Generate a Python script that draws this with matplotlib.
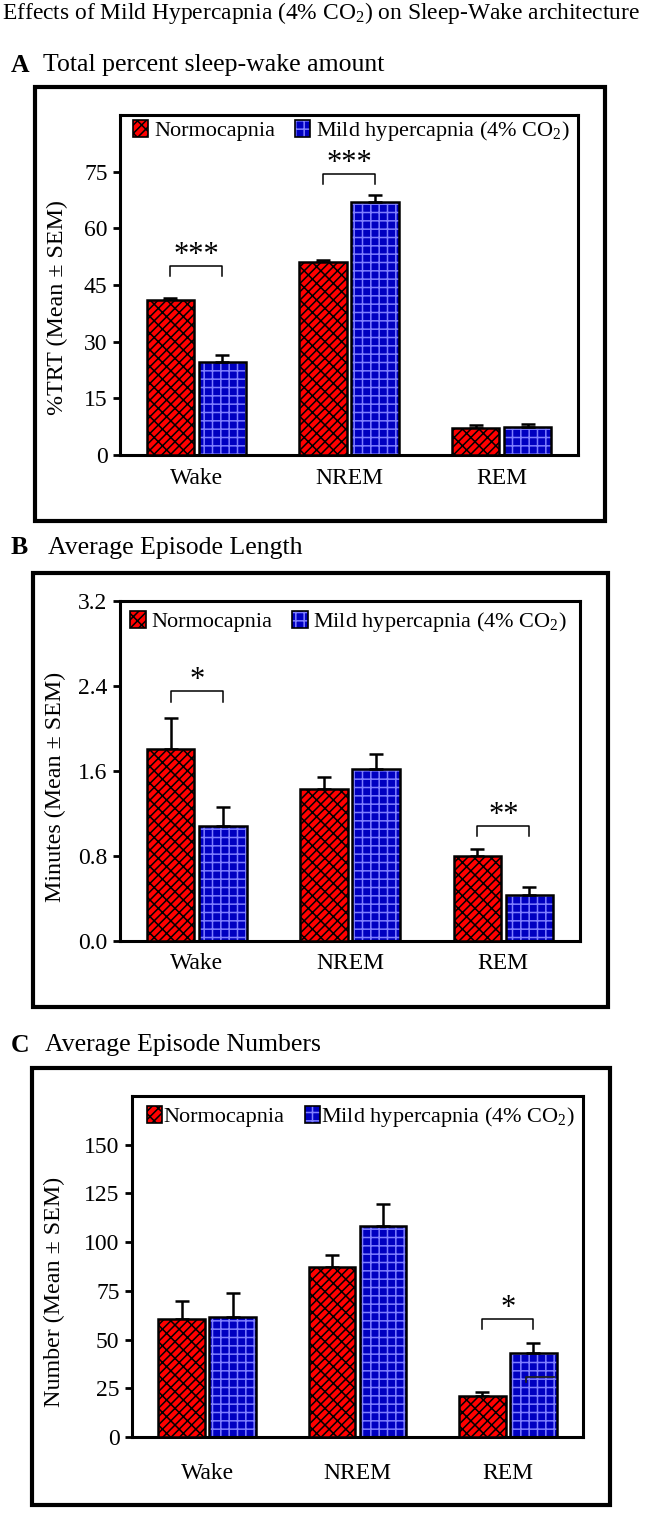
import numpy as np
import matplotlib
matplotlib.use("Agg")
import matplotlib.pyplot as plt
from matplotlib.patches import Patch, Rectangle

plt.rcParams['font.family'] = 'Liberation Serif'
plt.rcParams['mathtext.fontset'] = 'custom'
plt.rcParams['mathtext.rm'] = 'Liberation Serif'
plt.rcParams['mathtext.it'] = 'Liberation Serif:italic'
plt.rcParams['mathtext.bf'] = 'Liberation Serif:bold'
plt.rcParams['hatch.linewidth'] = 1.1

# dados
estados = ['Wake', 'NREM', 'REM']

pct_normo = [41.0, 51.0, 7.1]
pct_normo_sem = [0.5, 0.5, 0.8]
pct_hiper = [24.6, 67.1, 7.4]
pct_hiper_sem = [1.8, 1.8, 0.8]

dur_normo = [1.81, 1.43, 0.80]
dur_normo_sem = [0.29, 0.11, 0.07]
dur_hiper = [1.08, 1.62, 0.43]
dur_hiper_sem = [0.18, 0.14, 0.075]

num_normo = [60.6, 87.3, 21.0]
num_normo_sem = [9.2, 6.1, 2.1]
num_hiper = [61.6, 108.3, 43.1]
num_hiper_sem = [12.3, 11.3, 5.2]

# (estado, altura do colchete, estrelas)
sig_a = [(0, 50.0, '***'), (1, 74.5, '***')]
sig_b = [(0, 2.35, '*'), (2, 1.08, '**')]
sig_c = [(2, 60.6, '*')]

vermelho = '#ff0000'
azul = '#0000c0'
grade = '#7f7fff'
tijolo = '////\\\\'  # 4 barras '/' e 2 '\' -> padrão tipo tijolo

W, H = 645, 1516
fig = plt.figure(figsize=(W / 100, H / 100), dpi=100)


def caixa_px(esq, topo, dir, base):
    return [esq / W, 1 - base / H, (dir - esq) / W, (base - topo) / H]


def painel(ax, normo, normo_sem, hiper, hiper_sem, ymax, ticks, fmt,
           sig, ylabel, leg_pos, lab_pos, xpad, textpad):
    x = np.arange(len(estados))
    off = 0.17
    larg = 0.31
    ax.bar(x - off, normo, larg, color=vermelho, edgecolor='black',
           hatch=tijolo, linewidth=1.8, zorder=3)
    ax.bar(x + off, hiper, larg, color=azul, edgecolor=grade,
           hatch='++', linewidth=0, zorder=2)
    ax.bar(x + off, hiper, larg, fill=False, edgecolor='black',
           linewidth=1.8, zorder=3)
    ax.errorbar(x - off, normo, yerr=[np.zeros(3), normo_sem], fmt='none',
                ecolor='black', elinewidth=1.8, capsize=4.7, capthick=1.8, zorder=2)
    ax.errorbar(x + off, hiper, yerr=[np.zeros(3), hiper_sem], fmt='none',
                ecolor='black', elinewidth=1.8, capsize=4.7, capthick=1.8, zorder=2)

    ponta = 0.03 * ymax
    for i, h, txt in sig:
        ax.plot([i - off, i - off, i + off, i + off],
                [h - ponta, h, h, h - ponta], color='black', lw=1.1, zorder=4)
        ax.annotate(txt, xy=(i, h), xytext=(0, -3), textcoords='offset points',
                    ha='center', va='bottom', fontsize=22)

    ax.set_xlim(-0.5, 2.5)
    ax.set_ylim(0, ymax)
    ax.set_yticks(ticks)
    ax.set_yticklabels([fmt.format(t) for t in ticks])
    ax.set_xticks(x)
    ax.set_xticklabels(estados, fontsize=17)
    ax.tick_params(axis='x', length=0, pad=xpad)
    ax.tick_params(axis='y', length=5, width=2, pad=4, labelsize=17)
    for s in ax.spines.values():
        s.set_linewidth(2.2)

    ax.set_ylabel(ylabel, fontsize=17.3)
    ax.yaxis.set_label_coords(lab_pos[0], lab_pos[1])
    ax.yaxis.label.set_va('center')

    h1 = Patch(facecolor=vermelho, edgecolor='black', hatch=tijolo, linewidth=1.2)
    h2 = (Patch(facecolor=azul, edgecolor=grade, hatch='++', linewidth=0),
          Patch(fill=False, edgecolor='black', linewidth=1.2))
    ax.legend([h1, h2], ['Normocapnia', 'Mild hypercapnia (4% CO$_2$)'],
              loc='center left', bbox_to_anchor=leg_pos, ncol=2, frameon=False,
              fontsize=16, borderpad=0, borderaxespad=0, handlelength=0.7,
              handleheight=0.8, handletextpad=textpad, columnspacing=0.9)


axA = fig.add_axes(caixa_px(120, 115, 578, 455))
painel(axA, pct_normo, pct_normo_sem, pct_hiper, pct_hiper_sem, 90,
       [0, 15, 30, 45, 60, 75], '{:g}', sig_a, '%TRT (Mean ± SEM)',
       (0.028, 0.953), (-0.137, 0.434), 9, 0.25)

axB = fig.add_axes(caixa_px(120, 601, 580, 941))
painel(axB, dur_normo, dur_normo_sem, dur_hiper, dur_hiper_sem, 3.2,
       [0.0, 0.8, 1.6, 2.4, 3.2], '{:.1f}', sig_b, 'Minutes (Mean ± SEM)',
       (0.022, 0.938), (-0.141, 0.453), 9, 0.25)

axC = fig.add_axes(caixa_px(132, 1096, 583, 1437))
painel(axC, num_normo, num_normo_sem, num_hiper, num_hiper_sem, 175,
       [0, 25, 50, 75, 100, 125, 150], '{:g}', sig_c, 'Number (Mean ± SEM)',
       (0.033, 0.938), (-0.171, 0.425), 19, 0.05)
# traço solto dentro da barra azul do REM (está no original)
axC.plot([2.12, 2.12, 2.31], [28.2, 30.8, 30.8], color='#222222', lw=1.3, zorder=4)

# molduras externas
for esq, topo, dir, base in [(35, 87, 605, 521), (33, 573, 608, 1007), (32, 1068, 610, 1505)]:
    fig.add_artist(Rectangle((esq / W, 1 - base / H), (dir - esq) / W, (base - topo) / H,
                             transform=fig.transFigure, fill=False,
                             edgecolor='black', linewidth=3))

fig.text(2 / W, 1 - 13 / H, 'Effects of Mild Hypercapnia (4% CO$_2$) on Sleep-Wake architecture',
         ha='left', va='center', fontsize=16.9)
for letra, titulo, y, xt in [('A', 'Total percent sleep-wake amount', 65, 43),
                             ('B', 'Average Episode Length', 548, 48),
                             ('C', 'Average Episode Numbers', 1045, 45)]:
    fig.text(11 / W, 1 - y / H, letra, ha='left', va='center', fontsize=18.5, fontweight='bold')
    fig.text(xt / W, 1 - y / H, titulo, ha='left', va='center', fontsize=18.5)

fig.savefig('out.png', dpi=100)
